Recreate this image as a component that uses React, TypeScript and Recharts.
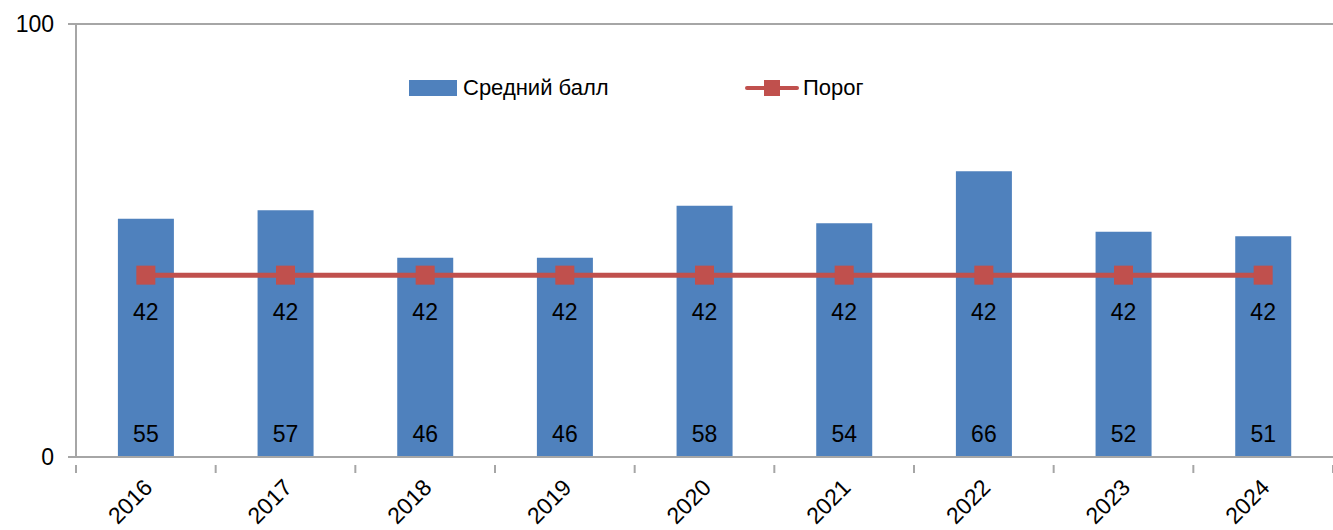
import React from "react";
import { ComposedChart, Bar, Line, XAxis, YAxis, CartesianGrid, LabelList } from "recharts";

const years = ["2016", "2017", "2018", "2019", "2020", "2021", "2022", "2023", "2024"];
const avgScore = [55, 57, 46, 46, 58, 54, 66, 52, 51];
const threshold = [42, 42, 42, 42, 42, 42, 42, 42, 42];
const yTicks = [0, 100];
const seriesNames = ["Средний балл", "Порог"];

const data = years.map((y, i) => ({ year: y, avg: avgScore[i], thr: threshold[i] }));

const W = 1333;
const H = 530;
const LEFT = 76;
const BAND = (W - LEFT) / years.length;
const FONT = "'Liberation Sans', Arial, sans-serif";
const GREY = "#a6a6a6";

const XTick = (props: any) => {
  const { x, y, payload, index } = props;
  const ax = x + 8;
  const ay = y + 24;
  return (
    <g>
      {index === 0 && <line x1={x - BAND / 2} y1={y} x2={x - BAND / 2} y2={y + 8} stroke={GREY} strokeWidth={2} />}
      <line x1={x + BAND / 2} y1={y} x2={x + BAND / 2} y2={y + 8} stroke={GREY} strokeWidth={2} />
      <text
        x={ax}
        y={ay}
        textAnchor="end"
        transform={`rotate(-45, ${ax}, ${ay})`}
        fontSize={23}
        fontFamily={FONT}
        fill="#000"
      >
        {payload.value}
      </text>
    </g>
  );
};

const YTick = (props: any) => {
  const { x, y, payload } = props;
  return (
    <text x={x - 12} y={y} dy={8} textAnchor="end" fontSize={23} fontFamily={FONT} fill="#000">
      {payload.value}
    </text>
  );
};

const LegendOverlay = () => (
  <div style={{ position: "absolute", left: 0, top: 75, width: W, height: 26, fontFamily: FONT, fontSize: 22, color: "#000", pointerEvents: "none" }}>
    <div style={{ position: "absolute", left: 409, top: 0, height: 26, display: "flex", alignItems: "center" }}>
      <div style={{ width: 48, height: 16, background: "#4f81bd", marginRight: 6 }} />
      <span>{seriesNames[0]}</span>
    </div>
    <div style={{ position: "absolute", left: 745, top: 0, height: 26, display: "flex", alignItems: "center" }}>
      <svg width={54} height={18} style={{ marginRight: 4 }}>
        <line x1={2} y1={9} x2={52} y2={9} stroke="#c0504d" strokeWidth={4} strokeLinecap="round" />
        <rect x={19} y={1} width={16} height={16} fill="#c0504d" />
      </svg>
      <span>{seriesNames[1]}</span>
    </div>
  </div>
);

export default function App() {
  return (
    <div style={{ position: "absolute", left: 0, top: 0, width: W, height: H, background: "#fff" }}>
      <ComposedChart
        width={W}
        height={H}
        data={data}
        margin={{ top: 24, right: 0, bottom: 0, left: 0 }}
        barCategoryGap="30%"
      >
        <CartesianGrid vertical={false} stroke={GREY} strokeWidth={2} />
        <XAxis
          dataKey="year"
          height={73}
          axisLine={{ stroke: GREY, strokeWidth: 2 }}
          tickLine={false}
          tick={<XTick />}
          interval={0}
        />
        <YAxis
          domain={[0, 100]}
          ticks={yTicks}
          width={LEFT}
          axisLine={{ stroke: GREY, strokeWidth: 2 }}
          tickLine={{ stroke: GREY, strokeWidth: 2 }}
          tickSize={8}
          tick={<YTick />}
        />
        <Bar dataKey="avg" name={seriesNames[0]} fill="#4f81bd" isAnimationActive={false}>
          <LabelList dataKey="avg" position="insideBottom" offset={15} fill="#000" fontSize={23} fontFamily={FONT} />
        </Bar>
        <Line
          dataKey="thr"
          name={seriesNames[1]}
          stroke="#c0504d"
          strokeWidth={5}
          isAnimationActive={false}
          dot={(p: any) => <rect key={p.index} x={p.cx - 9.5} y={p.cy - 9.5} width={19} height={19} fill="#c0504d" />}
          activeDot={false}
        >
          <LabelList dataKey="thr" position="bottom" offset={29} fill="#000" fontSize={23} fontFamily={FONT} />
        </Line>
      </ComposedChart>
      <LegendOverlay />
    </div>
  );
}
